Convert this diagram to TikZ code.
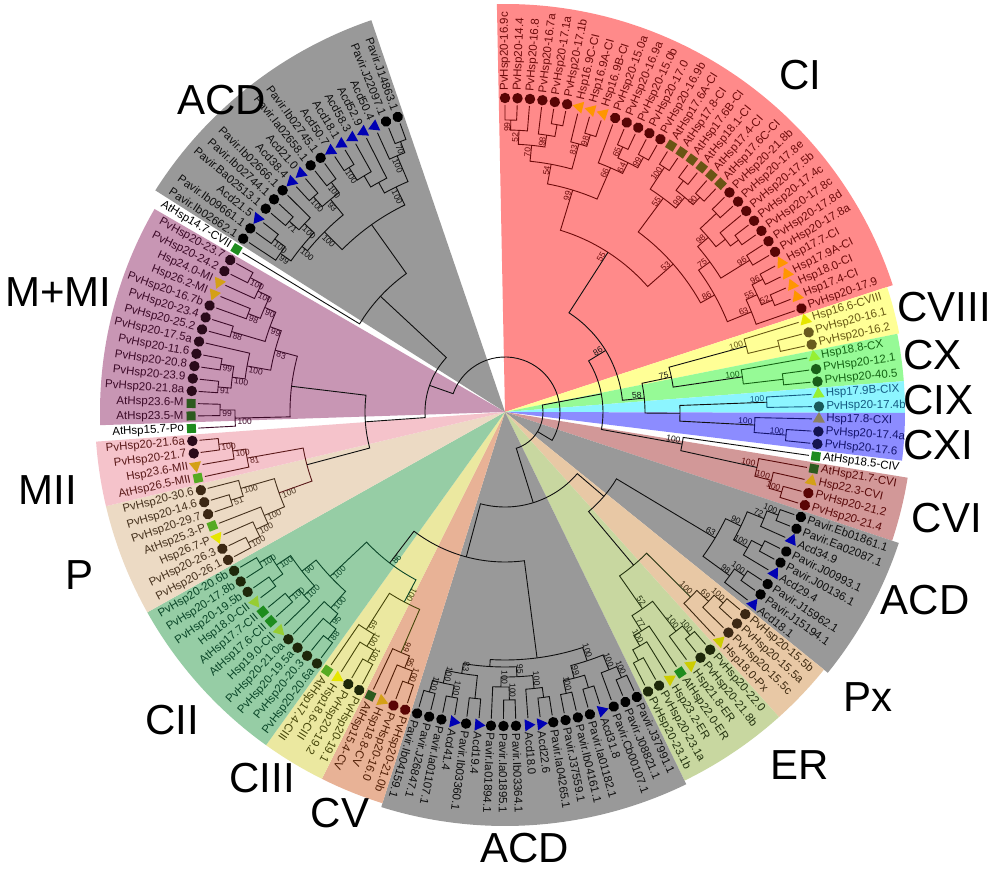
\documentclass[tikz,border=0pt]{standalone}
\usepackage{fontspec}
\setmainfont{Liberation Sans}
\usetikzlibrary{shapes.geometric}
% sector fills
\definecolor{fCI}{RGB}{255,138,138}
\definecolor{fCVIII}{RGB}{255,255,150}
\definecolor{fCX}{RGB}{150,250,150}
\definecolor{fCIX}{RGB}{140,245,255}
\definecolor{fCXI}{RGB}{140,140,255}
\definecolor{fCVI}{RGB}{210,152,152}
\definecolor{fACD}{RGB}{153,153,153}
\definecolor{fPx}{RGB}{232,200,165}
\definecolor{fER}{RGB}{200,215,160}
\definecolor{fCV}{RGB}{232,178,150}
\definecolor{fCIII}{RGB}{235,232,160}
\definecolor{fCII}{RGB}{150,205,165}
\definecolor{fP}{RGB}{236,218,196}
\definecolor{fMII}{RGB}{245,195,203}
\definecolor{fM}{RGB}{200,150,180}
% text / line colours
\definecolor{tCI}{RGB}{110,10,10}
\definecolor{tCVIII}{RGB}{105,90,20}
\definecolor{tCX}{RGB}{20,100,20}
\definecolor{tCIX}{RGB}{20,90,130}
\definecolor{tCXI}{RGB}{20,20,110}
\definecolor{tCVI}{RGB}{90,10,10}
\definecolor{tACD}{RGB}{15,15,15}
\definecolor{tPx}{RGB}{60,40,15}
\definecolor{tER}{RGB}{35,50,15}
\definecolor{tCV}{RGB}{80,30,5}
\definecolor{tCIII}{RGB}{70,70,10}
\definecolor{tCII}{RGB}{10,70,40}
\definecolor{tP}{RGB}{70,50,30}
\definecolor{tMII}{RGB}{90,25,25}
\definecolor{tM}{RGB}{60,10,40}
% marker colours
\definecolor{mDR}{RGB}{90,5,5}
\definecolor{mOr}{RGB}{255,150,0}
\definecolor{mOl}{RGB}{105,85,20}
\definecolor{mYe}{RGB}{230,230,0}
\definecolor{mOlC}{RGB}{105,90,30}
\definecolor{mLG}{RGB}{150,240,50}
\definecolor{mDG}{RGB}{25,95,25}
\definecolor{mTe}{RGB}{25,90,90}
\definecolor{mKh}{RGB}{140,128,96}
\definecolor{mNv}{RGB}{20,20,80}
\definecolor{mGr}{RGB}{30,140,30}
\definecolor{mDSq}{RGB}{45,90,30}
\definecolor{mGo}{RGB}{212,160,23}
\definecolor{mBl}{RGB}{0,0,180}
\definecolor{mBr}{RGB}{60,40,20}
\definecolor{mYl}{RGB}{205,205,0}
\definecolor{mDk}{RGB}{30,40,10}
\definecolor{mLSq}{RGB}{85,170,34}
\definecolor{mYG}{RGB}{150,205,50}
\definecolor{mPu}{RGB}{42,10,26}

\def\lstep{2.282}
\def\hstep{1.141}

\newcommand\sect[4]{%
  \pgfmathsetmacro\sa{90-(#1-1)*\lstep+\hstep}%
  \pgfmathsetmacro\sb{90-(#2-1)*\lstep-\hstep}%
  \fill[#3] (0,0) -- (\sa:#4) arc[start angle=\sa, end angle=\sb, radius=#4] -- cycle;}

\newcommand\lf[4]{%
  \pgfmathsetmacro\lfa{90-(#1-1)*\lstep}%
  \ifnum#1<96
    \let\lfr\lfa \def\lfanc{west}%
  \else
    \pgfmathsetmacro\lfr{\lfa+180}\def\lfanc{east}%
  \fi
  \node[mk#3, fill=#4, rotate=\lfa] (M#1) at (\lfa:314) {};%
  \node[lbl, text=\tcol, rotate=\lfr, anchor=\lfanc] (L#1) at (\lfa:321) {#2};}

\newcommand\br[5][]{%
  \edef\bA{\csname ti@#4\endcsname}%
  \edef\bRA{\csname tr@#4\endcsname}%
  \edef\bB{\csname ti@#5\endcsname}%
  \edef\bRB{\csname tr@#5\endcsname}%
  \pgfmathsetmacro\bM{(\bA+\bB)/2}%
  \expandafter\xdef\csname ti@#2\endcsname{\bM}%
  \expandafter\xdef\csname tr@#2\endcsname{#3}%
  \pgfmathsetmacro\gA{90-(\bA-1)*\lstep}%
  \pgfmathsetmacro\gB{90-(\bB-1)*\lstep}%
  \pgfmathsetmacro\gM{90-(\bM-1)*\lstep}%
  \pgfmathsetmacro\gr{#3-2}%
  \draw[tree] (\gA:\bRA) -- (\gA:#3) arc[start angle=\gA, end angle=\gB, radius=#3] -- (\gB:\bRB);%
  \if\relax\detokenize{#1}\relax\else
    \ifdim\bM pt<95.5pt
      \node[bs, rotate=\gM, anchor=south east] at (\gM:\gr) {#1};%
    \else
      \pgfmathsetmacro\gR{\gM+180}%
      \node[bs, rotate=\gR, anchor=north west] at (\gM:\gr) {#1};%
    \fi
  \fi}

% alias of a node shifted by one full turn (for arcs crossing the top)
\newcommand\wrapn[2]{%
  \pgfmathsetmacro\tmpw{\csname ti@#2\endcsname+157.7564}%
  \expandafter\xdef\csname ti@#1\endcsname{\tmpw}%
  \expandafter\xdef\csname tr@#1\endcsname{\csname tr@#2\endcsname}}

\begin{document}
\begin{tikzpicture}[x=1pt,y=1pt,
  tree/.style={draw=\tcol, line width=0.9pt},
  bs/.style={text=\tcol, font=\fontsize{8.5}{9}\selectfont, inner sep=0.2pt},
  lbl/.style={font=\fontsize{11.5}{12}\selectfont, inner sep=0.3pt},
  mkc/.style={circle, inner sep=0pt, minimum size=10.5pt},
  mkt/.style={regular polygon, regular polygon sides=3, inner sep=0pt, minimum size=14pt},
  mks/.style={rectangle, inner sep=0pt, minimum size=9pt},
  big/.style={font=\fontsize{42}{46}\selectfont, text=black, inner sep=0pt}]
\useasboundingbox (-505,-458) rectangle (488,412);
\fill[white] (-505,-458) rectangle (488,412);

% ---------- sectors ----------
\sect{1}{32}{fCI}{408}
\sect{33}{35}{fCVIII}{402}
\sect{36}{38}{fCX}{400}
\sect{39}{40}{fCIX}{400}
\sect{41}{43}{fCXI}{400}
\sect{45}{48}{fCVI}{408}
\sect{49}{57}{fACD}{415}
\sect{58}{61}{fPx}{410}
\sect{62}{68}{fER}{410}
\sect{69}{87}{fACD}{414}
\sect{88}{91}{fCV}{410}
\sect{92}{95}{fCIII}{410}
\sect{96}{106}{fCII}{410}
\sect{107}{113}{fP}{410}
\sect{114}{117}{fMII}{410}
\sect{119}{132}{fM}{405}
\sect{134}{150}{fACD}{414}

% ---------- leaf positions ----------
\foreach \k in {1,...,150}{%
  \expandafter\xdef\csname ti@\k\endcsname{\k}%
  \expandafter\xdef\csname tr@\k\endcsname{307}}

% ---------- tree ----------
\def\tcol{tCI}
\br[99]{c1}{292}{1}{2}
\br[52]{c2}{282}{c1}{3}
\br{c3}{292}{5}{6}
\br[98]{c4}{280}{4}{c3}
\br[70]{c5}{268}{c2}{c4}
\br[98]{c6}{290}{8}{9}
\br[83]{c7}{278}{7}{c6}
\br[54]{c8}{252}{c5}{c7}
\br[65]{c9}{290}{11}{12}
\br[99]{c10}{290}{13}{14}
\br[64]{c11}{278}{c9}{c10}
\br[66]{c12}{266}{10}{c11}
\br[99]{c13}{232}{c8}{c12}
\br[100]{c14}{292}{15}{16}
\br{c15}{292}{17}{18}
\br[90]{c16}{290}{19}{20}
\br[99]{c17}{280}{c15}{c16}
\br[55]{c18}{266}{c14}{c17}
\br{c19}{290}{21}{22}
\br{c20}{290}{24}{25}
\br{c21}{280}{23}{c20}
\br[98]{c22}{268}{c19}{c21}
\br[96]{c23}{288}{26}{27}
\br[75]{c24}{254}{c22}{c23}
\br[96]{c25}{290}{28}{29}
\br[52]{c26}{290}{30}{31}
\br[55]{c27}{278}{c25}{c26}
\br[63]{c28}{266}{c27}{32}
\br[86]{c29}{240}{c24}{c28}
\br[53]{c30}{224}{c18}{c29}
\br[55]{c31}{190}{c13}{c30}
\def\tcol{tCVIII}
\br{g1}{282}{34}{35}
\br[100]{g2}{250}{33}{g1}
\def\tcol{tCX}
\br{g3}{280}{37}{38}
\br[100]{g4}{240}{36}{g3}
\def\tcol{tCIX}
\br[100]{g5}{262}{39}{40}
\def\tcol{tCXI}
\br[100]{g6}{282}{42}{43}
\br[100]{g7}{250}{41}{g6}
\def\tcol{tACD}
\br[75]{g8}{170}{g2}{g4}
\br{g9}{175}{g5}{g7}
\br[58]{g10}{140}{g8}{g9}
\br[86]{g11}{118}{c31}{g10}
\def\tcol{tCVI}
\br[100]{h1}{288}{47}{48}
\br[100]{h2}{275}{46}{h1}
\br[100]{h3}{258}{45}{h2}
\def\tcol{tACD}
\br[100]{h4}{180}{44}{h3}
\br{h5}{98}{g11}{h4}
\br[100]{a1}{292}{49}{50}
\br[72]{a2}{280}{a1}{51}
\br{a3}{290}{52}{53}
\br[100]{a4}{278}{a3}{54}
\br[90]{a5}{262}{a2}{a4}
\br[100]{a6}{290}{55}{56}
\br[98]{a7}{278}{a6}{57}
\br[63]{a8}{245}{a5}{a7}
\def\tcol{tPx}
\br[100]{p1}{290}{58}{59}
\br[69]{p2}{278}{p1}{60}
\br[100]{p3}{262}{p2}{61}
\def\tcol{tER}
\br[100]{e1}{290}{62}{63}
\br[100]{e2}{278}{e1}{64}
\br{e3}{282}{67}{68}
\br[100]{e4}{270}{66}{e3}
\br[77]{e5}{258}{65}{e4}
\br[52]{e6}{240}{e2}{e5}
\br{e7}{200}{p3}{e6}
\def\tcol{tACD}
\br[100]{b1}{290}{69}{70}
\br[100]{b2}{278}{b1}{71}
\br{b3}{288}{72}{73}
\br[100]{b4}{288}{74}{75}
\br[99]{b5}{275}{b3}{b4}
\br[100]{b6}{262}{b2}{b5}
\br{b7}{288}{76}{77}
\br[100]{b8}{278}{b7}{78}
\br[100]{b9}{288}{79}{80}
\br[100]{b10}{275}{b9}{81}
\br[95]{b11}{265}{b8}{b10}
\br{b12}{288}{82}{83}
\br[100]{b13}{290}{84}{85}
\br[100]{b14}{290}{86}{87}
\br[100]{b15}{278}{b13}{b14}
\br[83]{b16}{265}{b12}{b15}
\br{b17}{255}{b11}{b16}
\br{b18}{248}{b6}{b17}
\def\tcol{tCV}
\br[100]{v1}{288}{88}{89}
\br[95]{v2}{275}{v1}{90}
\br[99]{v3}{262}{v2}{91}
\def\tcol{tCIII}
\br[100]{t1}{285}{92}{93}
\br[100]{t2}{272}{t1}{94}
\br[65]{t3}{258}{t2}{95}
\br[100]{t4}{215}{v3}{t3}
\def\tcol{tCII}
\br[88]{i1}{288}{96}{97}
\br[95]{i2}{275}{i1}{98}
\br[100]{i3}{262}{i2}{99}
\br[100]{i4}{285}{101}{102}
\br[100]{i5}{272}{100}{i4}
\br{i6}{288}{103}{104}
\br[100]{i7}{288}{105}{106}
\br[100]{i8}{275}{i6}{i7}
\br[90]{i9}{258}{i5}{i8}
\br[100]{i10}{240}{i3}{i9}
\br[86]{i11}{190}{t4}{i10}
\def\tcol{tP}
\br[100]{q1}{288}{107}{108}
\br[100]{q2}{275}{q1}{109}
\br[100]{q3}{262}{q2}{110}
\br[51]{q4}{288}{111}{112}
\br[100]{q5}{275}{q4}{113}
\br[100]{q6}{240}{q3}{q5}
\def\tcol{tMII}
\br[100]{r1}{288}{116}{117}
\br[100]{r2}{275}{115}{r1}
\br[81]{r3}{262}{114}{r2}
\br{r4}{205}{q6}{r3}
\def\tcol{tM}
\br[99]{s1}{285}{119}{120}
\br[100]{s2}{270}{118}{s1}
\br[91]{s3}{288}{121}{122}
\br[99]{s4}{288}{123}{124}
\br[100]{s5}{275}{s3}{s4}
\br[100]{s6}{262}{s5}{125}
\br[88]{s7}{285}{126}{127}
\br[98]{s8}{275}{128}{129}
\br[100]{s9}{288}{131}{132}
\br[100]{s10}{275}{130}{s9}
\br[90]{s11}{262}{s8}{s10}
\br[99]{s12}{250}{s7}{s11}
\br[83]{s13}{238}{s6}{s12}
\br{s14}{215}{s2}{s13}
\def\tcol{tACD}
\br[100]{u1}{288}{135}{136}
\br[99]{u2}{275}{134}{u1}
\br[71]{u3}{288}{137}{138}
\br[100]{u4}{275}{u3}{139}
\br[100]{u5}{262}{u2}{u4}
\br[100]{u6}{288}{140}{141}
\br[100]{u7}{288}{142}{143}
\br[93]{u8}{275}{u6}{u7}
\br[100]{u9}{255}{u5}{u8}
\br[100]{u10}{290}{144}{145}
\br{u11}{275}{u10}{146}
\br{u12}{262}{u11}{147}
\br[70]{u13}{290}{149}{150}
\br[100]{u14}{278}{148}{u13}
\br[100]{u15}{250}{u12}{u14}
\br{u16}{230}{u9}{u15}
\br{u17}{170}{133}{u16}
% backbone
\br{k1}{130}{a8}{e7}
\br{k2}{150}{b18}{i11}
\br{k3}{95}{k1}{k2}
\br{kR}{38}{h5}{k3}
\br{k4}{140}{r4}{s14}
\br{k5}{80}{k4}{u17}
\wrapn{kRw}{kR}
\br{root}{55}{k5}{kRw}

% ---------- leaves ----------
\def\tcol{tCI}
\lf{1}{PvHsp20-16.9c}{c}{mDR}
\lf{2}{PvHsp20-14.4}{c}{mDR}
\lf{3}{PvHsp20-16.8}{c}{mDR}
\lf{4}{PvHsp20-16.7a}{c}{mDR}
\lf{5}{PvHsp20-17.1a}{c}{mDR}
\lf{6}{PvHsp20-17.1b}{c}{mDR}
\lf{7}{Hsp16.9C-CI}{t}{mOr}
\lf{8}{Hsp16.9A-CI}{t}{mOr}
\lf{9}{Hsp16.9B-CI}{t}{mOr}
\lf{10}{PvHsp20-15.0a}{c}{mDR}
\lf{11}{PvHsp20-16.9a}{c}{mDR}
\lf{12}{PvHsp20-15.0b}{c}{mDR}
\lf{13}{PvHsp20-17.0}{c}{mDR}
\lf{14}{PvHsp20-16.9b}{c}{mDR}
\lf{15}{AtHsp17.6A-CI}{s}{mOl}
\lf{16}{AtHsp17.8-CI}{s}{mOl}
\lf{17}{AtHsp17.6B-CI}{s}{mOl}
\lf{18}{AtHsp18.1-CI}{s}{mOl}
\lf{19}{AtHsp17.4-CI}{s}{mOl}
\lf{20}{AtHsp17.6C-CI}{s}{mOl}
\lf{21}{PvHsp20-21.8b}{c}{mDR}
\lf{22}{PvHsp20-17.8e}{c}{mDR}
\lf{23}{PvHsp20-17.5b}{c}{mDR}
\lf{24}{PvHsp20-17.4c}{c}{mDR}
\lf{25}{PvHsp20-17.8c}{c}{mDR}
\lf{26}{PvHsp20-17.8d}{c}{mDR}
\lf{27}{PvHsp20-17.8a}{c}{mDR}
\lf{28}{Hsp17.7-CI}{t}{mOr}
\lf{29}{Hsp17.9A-CI}{t}{mOr}
\lf{30}{Hsp18.0-CI}{t}{mOr}
\lf{31}{Hsp17.4-CI}{t}{mOr}
\lf{32}{PvHsp20-17.9}{c}{mDR}
\def\tcol{tCVIII}
\lf{33}{Hsp16.6-CVIII}{t}{mYe}
\lf{34}{PvHsp20-16.1}{c}{mOlC}
\lf{35}{PvHsp20-16.2}{c}{mOlC}
\def\tcol{tCX}
\lf{36}{Hsp18.8-CX}{t}{mLG}
\lf{37}{PvHsp20-12.1}{c}{mDG}
\lf{38}{PvHsp20-40.5}{c}{mDG}
\def\tcol{tCIX}
\lf{39}{Hsp17.9B-CIX}{t}{mLG}
\lf{40}{PvHsp20-17.4b}{c}{mTe}
\def\tcol{tCXI}
\lf{41}{Hsp17.8-CXI}{t}{mKh}
\lf{42}{PvHsp20-17.4a}{c}{mNv}
\lf{43}{PvHsp20-17.6}{c}{mNv}
\def\tcol{black}
\lf{44}{AtHsp18.5-CIV}{s}{mGr}
\def\tcol{tCVI}
\lf{45}{AtHsp21.7-CVI}{s}{mDSq}
\lf{46}{Hsp22.3-CVI}{t}{mGo}
\lf{47}{PvHsp20-21.2}{c}{mDR}
\lf{48}{PvHsp20-21.4}{c}{mDR}
\def\tcol{tACD}
\lf{49}{Pavir.Eb01861.1}{c}{black}
\lf{50}{Pavir.Ea02087.1}{c}{black}
\lf{51}{Acd34.9}{t}{mBl}
\lf{52}{Pavir.J00993.1}{c}{black}
\lf{53}{Pavir.J00136.1}{c}{black}
\lf{54}{Acd29.4}{t}{mBl}
\lf{55}{Pavir.J15962.1}{c}{black}
\lf{56}{Pavir.J15194.1}{c}{black}
\lf{57}{Acd18.1}{t}{mBl}
\def\tcol{tPx}
\lf{58}{PvHsp20-15.5b}{c}{mBr}
\lf{59}{PvHsp20-15.5a}{c}{mBr}
\lf{60}{PvHsp20-15.5c}{c}{mBr}
\lf{61}{Hsp18.0-Px}{t}{mYl}
\def\tcol{tER}
\lf{62}{PvHsp20-22.0}{c}{mDk}
\lf{63}{PvHsp20-21.8b}{c}{mDk}
\lf{64}{Hsp21.8-ER}{t}{mYl}
\lf{65}{AtHsp22.0-ER}{s}{mGr}
\lf{66}{Hsp23.2-ER}{t}{mYl}
\lf{67}{PvHsp20-23.1a}{c}{mDk}
\lf{68}{PvHsp20-23.1b}{c}{mDk}
\def\tcol{tACD}
\lf{69}{Pavir.J37991.1}{c}{black}
\lf{70}{Pavir.J08821.1}{c}{black}
\lf{71}{Pavir.Cb00107.1}{c}{black}
\lf{72}{Acd31.8}{t}{mBl}
\lf{73}{Pavir.Ia01182.1}{c}{black}
\lf{74}{Pavir.Ib04161.1}{c}{black}
\lf{75}{Pavir.J37559.1}{c}{black}
\lf{76}{Pavir.Ia04265.1}{c}{black}
\lf{77}{Acd22.6}{t}{mBl}
\lf{78}{Acd18.0}{t}{mBl}
\lf{79}{Pavir.Ib03364.1}{c}{black}
\lf{80}{Pavir.Ia01895.1}{c}{black}
\lf{81}{Pavir.Ia01894.1}{c}{black}
\lf{82}{Acd19.4}{t}{mBl}
\lf{83}{Pavir.Ib03360.1}{c}{black}
\lf{84}{Acd41.4}{t}{mBl}
\lf{85}{Pavir.Ia01107.1}{c}{black}
\lf{86}{Pavir.J26847.1}{c}{black}
\lf{87}{Pavir.Ib04159.1}{c}{black}
\def\tcol{tCV}
\lf{88}{PvHsp20-21.0b}{c}{mDR}
\lf{89}{PvHsp20-16.0}{c}{mDR}
\lf{90}{Hsp18.8-CV}{t}{mGo}
\lf{91}{AtHsp15.4-CV}{s}{mDSq}
\def\tcol{tCIII}
\lf{92}{PvHsp20-19.1}{c}{mDk}
\lf{93}{PvHsp20-19.2}{c}{mDk}
\lf{94}{Hsp18.6-CIII}{t}{mYe}
\lf{95}{AtHsp17.4-CIII}{s}{mLSq}
\def\tcol{tCII}
\lf{96}{PvHsp20-20.6a}{c}{mDk}
\lf{97}{PvHsp20-20.3}{c}{mDk}
\lf{98}{PvHsp20-19.5a}{c}{mDk}
\lf{99}{PvHsp20-21.0a}{c}{mDk}
\lf{100}{Hsp19.0-CII}{t}{mYG}
\lf{101}{AtHsp17.6-CII}{s}{mGr}
\lf{102}{AtHsp17.7-CII}{s}{mGr}
\lf{103}{Hsp18.0-CII}{t}{mYG}
\lf{104}{PvHsp20-19.5b}{c}{mDk}
\lf{105}{PvHsp20-17.8b}{c}{mDk}
\lf{106}{PvHsp20-20.6b}{c}{mDk}
\def\tcol{tP}
\lf{107}{PvHsp20-26.1}{c}{mBr}
\lf{108}{PvHsp20-26.3}{c}{mBr}
\lf{109}{Hsp26.7-P}{t}{mYe}
\lf{110}{AtHsp25.3-P}{s}{mLSq}
\lf{111}{PvHsp20-29.7}{c}{mBr}
\lf{112}{PvHsp20-14.6}{c}{mBr}
\lf{113}{PvHsp20-30.6}{c}{mBr}
\def\tcol{tMII}
\lf{114}{AtHsp26.5-MII}{s}{mLSq}
\lf{115}{Hsp23.6-MII}{t}{mGo}
\lf{116}{PvHsp20-21.7}{c}{mPu}
\lf{117}{PvHsp20-21.6a}{c}{mPu}
\def\tcol{black}
\lf{118}{AtHsp15.7-Po}{s}{mGr}
\def\tcol{tM}
\lf{119}{AtHsp23.5-M}{s}{mDSq}
\lf{120}{AtHsp23.6-M}{s}{mDSq}
\lf{121}{PvHsp20-21.8a}{c}{mPu}
\lf{122}{PvHsp20-23.9}{c}{mPu}
\lf{123}{PvHsp20-20.8}{c}{mPu}
\lf{124}{PvHsp20-11.6}{c}{mPu}
\lf{125}{PvHsp20-17.5a}{c}{mPu}
\lf{126}{PvHsp20-25.2}{c}{mPu}
\lf{127}{PvHsp20-23.4}{c}{mPu}
\lf{128}{PvHsp20-16.7b}{c}{mPu}
\lf{129}{Hsp26.2-MI}{t}{mGo}
\lf{130}{Hsp24.0-MI}{t}{mGo}
\lf{131}{PvHsp20-24.2}{c}{mPu}
\lf{132}{PvHsp20-23.7}{c}{mPu}
\def\tcol{black}
\lf{133}{AtHsp14.7-CVII}{s}{mGr}
\def\tcol{tACD}
\lf{134}{Pavir.Ib02662.1}{c}{black}
\lf{135}{Pavir.Ib09661.1}{c}{black}
\lf{136}{Acd21.5}{t}{mBl}
\lf{137}{Pavir.Ba02513.1}{c}{black}
\lf{138}{Pavir.Ib02744.1}{c}{black}
\lf{139}{Pavir.Ib02666.1}{c}{black}
\lf{140}{Acd38.4}{t}{mBl}
\lf{141}{Acd21.0}{t}{mBl}
\lf{142}{Pavir.Ia02658.1}{c}{black}
\lf{143}{Pavir.Ib02745.1}{c}{black}
\lf{144}{Acd50.7}{t}{mBl}
\lf{145}{Acd18.1}{t}{mBl}
\lf{146}{Acd58.3}{t}{mBl}
\lf{147}{Acd52.9}{t}{mBl}
\lf{148}{Acd50.4}{t}{mBl}
\lf{149}{Pavir.J22097.1}{c}{black}
\lf{150}{Pavir.J14863.1}{c}{black}

% ---------- group labels ----------
\node[big] (gCI) at (295,337) {CI};
\node[big, anchor=east] (gCVIII) at (486,105) {CVIII};
\node[big, anchor=west] (gCX) at (398,57) {CX};
\node[big, anchor=west] (gCIX) at (398,12) {CIX};
\node[big, anchor=west] (gCXI) at (398,-33) {CXI};
\node[big] (gCVI) at (442,-106) {CVI};
\node[big] (gACDr) at (420,-188) {ACD};
\node[big] (gPx) at (363,-285) {Px};
\node[big] (gER) at (295,-353) {ER};
\node[big] (gACDb) at (20,-436) {ACD};
\node[big] (gCV) at (-165,-401) {CV};
\node[big] (gCIII) at (-243,-366) {CIII};
\node[big] (gCII) at (-333,-308) {CII};
\node[big] (gP) at (-425,-163) {P};
\node[big] (gMII) at (-457,-78) {MII};
\node[big, anchor=west] (gM) at (-500,120) {M+MI};
\node[big] (gACDt) at (-283,312) {ACD};
\end{tikzpicture}
\end{document}
